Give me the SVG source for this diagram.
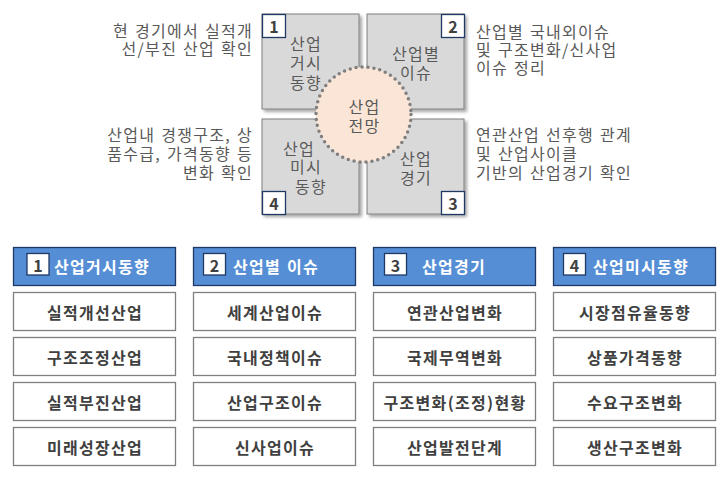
<svg xmlns="http://www.w3.org/2000/svg" width="726" height="481" viewBox="0 0 726 481">
<defs>
<filter id="sh" x="-10%" y="-10%" width="125%" height="125%">
<feDropShadow dx="2.5" dy="2.5" stdDeviation="1.5" flood-color="#000" flood-opacity="0.35"/>
</filter>
<style>
text{font-family:"Malgun Gothic","Noto Sans CJK KR","Noto Sans",sans-serif;font-size:16px;letter-spacing:1.3px;word-spacing:1px;}
.q{fill:#d9d9d9;stroke:#7f7f7f;stroke-width:1;filter:url(#sh);}
.nb{fill:#fff;stroke:#1f3864;stroke-width:1.3;}
.nt{fill:#404040;font-weight:bold;font-size:16px;letter-spacing:0;text-anchor:middle;dominant-baseline:central;}
.qt{fill:#595959;text-anchor:middle;dominant-baseline:central;}
.side{fill:#595959;dominant-baseline:central;}
.hd{fill:#558ed5;stroke:#203864;stroke-width:1.3;}
.ht{fill:#fff;font-weight:bold;dominant-baseline:central;}
.rw{fill:#fff;stroke:#7f7f7f;stroke-width:1.3;}
.rt{fill:#404040;font-weight:bold;text-anchor:middle;dominant-baseline:central;}
</style>
</defs>
<rect width="726" height="481" fill="#fff"/>

<g id="quad1">
<rect class="q" x="262" y="14" width="97" height="95"/>
<rect class="nb" x="262.5" y="14.5" width="23" height="23"/>
<text class="nt" x="274" y="26">1</text>
<text class="qt"><tspan x="306" y="43">산업</tspan><tspan x="306" y="62">거시</tspan><tspan x="306" y="82">동향</tspan></text>
</g>
<g id="quad2">
<rect class="q" x="367" y="14" width="97" height="95"/>
<rect class="nb" x="441.5" y="14.5" width="23" height="23"/>
<text class="nt" x="453" y="26">2</text>
<text class="qt"><tspan x="416" y="53">산업별</tspan><tspan x="416" y="72">이슈</tspan></text>
</g>
<g id="quad4">
<rect class="q" x="262" y="119" width="97" height="95"/>
<rect class="nb" x="262.5" y="191.5" width="23" height="23"/>
<text class="nt" x="274" y="203">4</text>
<text class="qt"><tspan x="299" y="148">산업</tspan><tspan x="306" y="166">미시</tspan><tspan x="311" y="186">동향</tspan></text>
</g>
<g id="quad3">
<rect class="q" x="367" y="119" width="97" height="95"/>
<rect class="nb" x="441.5" y="191.5" width="23" height="23"/>
<text class="nt" x="453" y="203">3</text>
<text class="qt"><tspan x="416" y="158">산업</tspan><tspan x="416" y="177">경기</tspan></text>
</g>
<g id="center">
<circle cx="363.5" cy="114.5" r="47.5" fill="#fbe5d6" stroke="#7f7f7f" stroke-width="3.5" stroke-linecap="round" stroke-dasharray="0 6"/>
<text class="qt"><tspan x="364.5" y="106">산업</tspan><tspan x="364.5" y="125">전망</tspan></text>
</g>

<g id="desc1">
<text class="side" text-anchor="end"><tspan x="253" y="30">현 경기에서 실적개</tspan><tspan x="253" y="48">선/부진 산업 확인</tspan></text>
</g>
<g id="desc4">
<text class="side" text-anchor="end"><tspan x="253" y="134">산업내 경쟁구조, 상</tspan><tspan x="253" y="153">품수급, 가격동향 등</tspan><tspan x="253" y="172">변화 확인</tspan></text>
</g>
<g id="desc2">
<text class="side"><tspan x="476" y="31">산업별 국내외이슈</tspan><tspan x="476" y="49">및 구조변화/신사업</tspan><tspan x="476" y="67">이슈 정리</tspan></text>
</g>
<g id="desc3">
<text class="side"><tspan x="476" y="134">연관산업 선후행 관계</tspan><tspan x="476" y="153">및 산업사이클</tspan><tspan x="476" y="172">기반의 산업경기 확인</tspan></text>
</g>

<g id="col1">
<rect class="hd" x="13.5" y="247.5" width="162" height="38"/>
<rect class="nb" x="27" y="253.5" width="22" height="21.5"/>
<text class="nt" x="38" y="264.5">1</text>
<text class="ht" x="54" y="266">산업거시동향</text>
<rect class="rw" x="13.5" y="292.5" width="162" height="38"/>
<text class="rt" x="95" y="311.5">실적개선산업</text>
<rect class="rw" x="13.5" y="337.5" width="162" height="38"/>
<text class="rt" x="95" y="356.5">구조조정산업</text>
<rect class="rw" x="13.5" y="382.5" width="162" height="38"/>
<text class="rt" x="95" y="401.5">실적부진산업</text>
<rect class="rw" x="13.5" y="427.5" width="162" height="38"/>
<text class="rt" x="95" y="446.5">미래성장산업</text>
</g>
<g id="col2">
<rect class="hd" x="193.5" y="247.5" width="162" height="38"/>
<rect class="nb" x="203.5" y="253.5" width="22" height="21.5"/>
<text class="nt" x="214.5" y="264.5">2</text>
<text class="ht" x="233" y="266">산업별 이슈</text>
<rect class="rw" x="193.5" y="292.5" width="162" height="38"/>
<text class="rt" x="275" y="311.5">세계산업이슈</text>
<rect class="rw" x="193.5" y="337.5" width="162" height="38"/>
<text class="rt" x="275" y="356.5">국내정책이슈</text>
<rect class="rw" x="193.5" y="382.5" width="162" height="38"/>
<text class="rt" x="275" y="401.5">산업구조이슈</text>
<rect class="rw" x="193.5" y="427.5" width="162" height="38"/>
<text class="rt" x="275" y="446.5">신사업이슈</text>
</g>
<g id="col3">
<rect class="hd" x="373.5" y="247.5" width="162" height="38"/>
<rect class="nb" x="384.5" y="253.5" width="22" height="21.5"/>
<text class="nt" x="395.5" y="264.5">3</text>
<text class="ht" x="422" y="266">산업경기</text>
<rect class="rw" x="373.5" y="292.5" width="162" height="38"/>
<text class="rt" x="455" y="311.5">연관산업변화</text>
<rect class="rw" x="373.5" y="337.5" width="162" height="38"/>
<text class="rt" x="455" y="356.5">국제무역변화</text>
<rect class="rw" x="373.5" y="382.5" width="162" height="38"/>
<text class="rt" x="455" y="401.5">구조변화(조정)현황</text>
<rect class="rw" x="373.5" y="427.5" width="162" height="38"/>
<text class="rt" x="455" y="446.5">산업발전단계</text>
</g>
<g id="col4">
<rect class="hd" x="553.5" y="247.5" width="162" height="38"/>
<rect class="nb" x="563.5" y="253.5" width="22" height="21.5"/>
<text class="nt" x="574.5" y="264.5">4</text>
<text class="ht" x="593" y="266">산업미시동향</text>
<rect class="rw" x="553.5" y="292.5" width="162" height="38"/>
<text class="rt" x="635" y="311.5">시장점유율동향</text>
<rect class="rw" x="553.5" y="337.5" width="162" height="38"/>
<text class="rt" x="635" y="356.5">상품가격동향</text>
<rect class="rw" x="553.5" y="382.5" width="162" height="38"/>
<text class="rt" x="635" y="401.5">수요구조변화</text>
<rect class="rw" x="553.5" y="427.5" width="162" height="38"/>
<text class="rt" x="635" y="446.5">생산구조변화</text>
</g>
</svg>
